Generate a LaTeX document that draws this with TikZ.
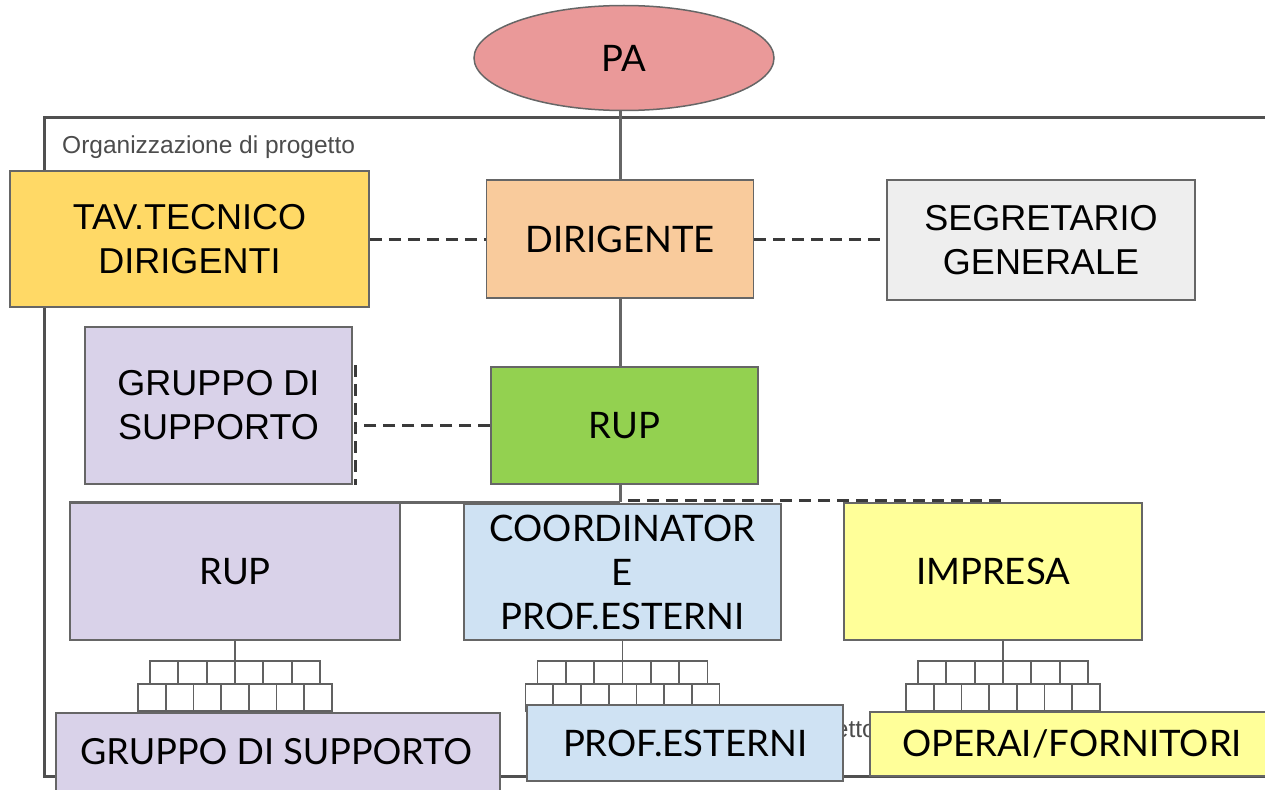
\documentclass[tikz,border=0pt]{standalone}
\usepackage{fontspec}
\setmainfont{Liberation Sans}
\newfontfamily\latofont{Lato}
\usetikzlibrary{shapes.geometric,backgrounds}

\definecolor{paRed}{HTML}{EA9999}
\definecolor{tavYellow}{HTML}{FFD966}
\definecolor{dirOrange}{HTML}{F9CB9C}
\definecolor{segGray}{HTML}{EEEEEE}
\definecolor{rupGreen}{HTML}{93D150}
\definecolor{lilac}{HTML}{D9D2E9}
\definecolor{paleBlue}{HTML}{CFE2F3}
\definecolor{paleYellow}{HTML}{FFFF99}
\definecolor{edgeGray}{HTML}{666666}
\definecolor{frameGray}{HTML}{505050}
\definecolor{dashGray}{HTML}{3A3A3A}

\tikzset{
  box/.style={draw=edgeGray, line width=1.5pt, align=center, inner sep=0pt,
              font=\fontsize{36}{44}\selectfont},
  latobox/.style={box, font=\latofont\fontsize{36.5}{44}\selectfont},
  conn/.style={draw=edgeGray, line width=3pt},
  dashconn/.style={draw=dashGray, line width=3pt, dash pattern=on 12pt off 7pt},
  frameline/.style={draw=frameGray, line width=3pt},
  framelabel/.style={text=black!70, font=\fontsize{24.5}{27}\selectfont, inner sep=0pt},
  iconline/.style={draw=black!62, line width=1.7pt},
  pics/orgtree/.style={code={
    \draw[iconline] (0,0) -- (0,20);
    \draw[iconline] (-85,20) rectangle (85,43);
    \foreach \i in {1,...,5} \draw[iconline] ({-85+\i*170/6},20) -- ({-85+\i*170/6},43);
    \draw[iconline] (-97,43) rectangle (97,70);
    \foreach \i in {1,...,6} \draw[iconline] ({-97+\i*194/7},43) -- ({-97+\i*194/7},70);
  }}
}

\begin{document}
\begin{tikzpicture}[x=1pt, y=-1pt]
\useasboundingbox (0,0) rectangle (1265,789);

% project frame and its labels, behind everything
\begin{scope}[on background layer]
  \draw[frameline] (44,118) rectangle (1285,776);
  \node[framelabel, anchor=west] (toplabel) at (62,147) {Organizzazione di progetto};
  \begin{scope}
    \clip (843,700) rectangle (871,775);
    \node[framelabel, anchor=east] (botlabel) at (876,731) {Organizzazione di progetto};
  \end{scope}
\end{scope}

% top level
\node[ellipse, draw=edgeGray, line width=1.5pt, fill=paRed, minimum width=300pt,
      minimum height=105pt, inner sep=0pt, font=\latofont\fontsize{36.5}{44}\selectfont]
      (pa) at (624,58) {PA};

\node[box, fill=tavYellow, minimum width=359pt, minimum height=136pt] (tav) at (189.5,239) {TAV.TECNICO\\DIRIGENTI};
\node[latobox, fill=dirOrange, minimum width=267pt, minimum height=118pt] (dir) at (620,239) {DIRIGENTE};
\node[box, fill=segGray, minimum width=308pt, minimum height=120pt] (seg) at (1041,240) {SEGRETARIO\\GENERALE};

% RUP level
\node[box, fill=lilac, minimum width=267pt, minimum height=157pt] (gsup) at (218.5,405.5) {GRUPPO DI\\SUPPORTO};
\node[latobox, fill=rupGreen, minimum width=267pt, minimum height=117pt] (rup) at (624.5,425.5) {RUP};

% operational level
\node[latobox, fill=lilac, minimum width=330pt, minimum height=137pt] (rupb) at (235,571.5) {RUP};
\node[latobox, fill=paleBlue, minimum width=317pt, minimum height=136pt] (coord) at (622.5,572) {COORDINATOR\\E\\PROF.ESTERNI};
\node[latobox, fill=paleYellow, minimum width=298pt, minimum height=137pt] (imp) at (993,571.5) {IMPRESA};

% small org charts under each operational box
\begin{scope}[on background layer]
  \pic at (rupb.south) {orgtree};
  \pic at (coord.south) {orgtree};
  \pic at ([xshift=10pt]imp.south) {orgtree};
\end{scope}

% bottom level
\node[latobox, fill=lilac, minimum width=444pt, minimum height=90pt] (gsupb) at (278,758) {};
\node[font=\latofont\fontsize{36}{44}\selectfont, inner sep=0pt] (gsupbtext) at (276,752) {GRUPPO DI SUPPORTO};
\node[latobox, fill=paleBlue, minimum width=316pt, minimum height=76pt] (prof) at (685,743) {PROF.ESTERNI};
\node[latobox, fill=paleYellow, minimum width=404pt, minimum height=64pt] (oper) at (1072,744) {OPERAI/FORNITORI};

% connectors
\coordinate (jn) at (dir.south |- rupb.north);
\coordinate (brk) at ([xshift=3pt]gsup.east |- rup.west);
\coordinate (brktop) at ([xshift=3pt,yshift=-39pt]gsup.north east);
\coordinate (brkbot) at ([xshift=3pt]gsup.south east);
\begin{scope}[on background layer]
  \draw[conn] (dir.north |- pa.south) -- (dir.north);
  \draw[conn] (dir.south) -- (dir.south |- rup.north);
  \draw[conn] (dir.south |- rup.south) -- (jn);
  \draw[conn] (rupb.north west) -- (jn);
  \draw[dashconn] ([xshift=8pt,yshift=2pt]jn) -- ([xshift=12pt,yshift=2pt]imp.north);
  \draw[dashconn] (tav.east |- dir.west) -- (dir.west);
  \draw[dashconn] (dir.east) -- (dir.east -| seg.west);
  \draw[dashconn] (rup.west) -- (brk);
  \draw[dashconn] (brktop) -- (brkbot);
\end{scope}
\end{tikzpicture}
\end{document}
